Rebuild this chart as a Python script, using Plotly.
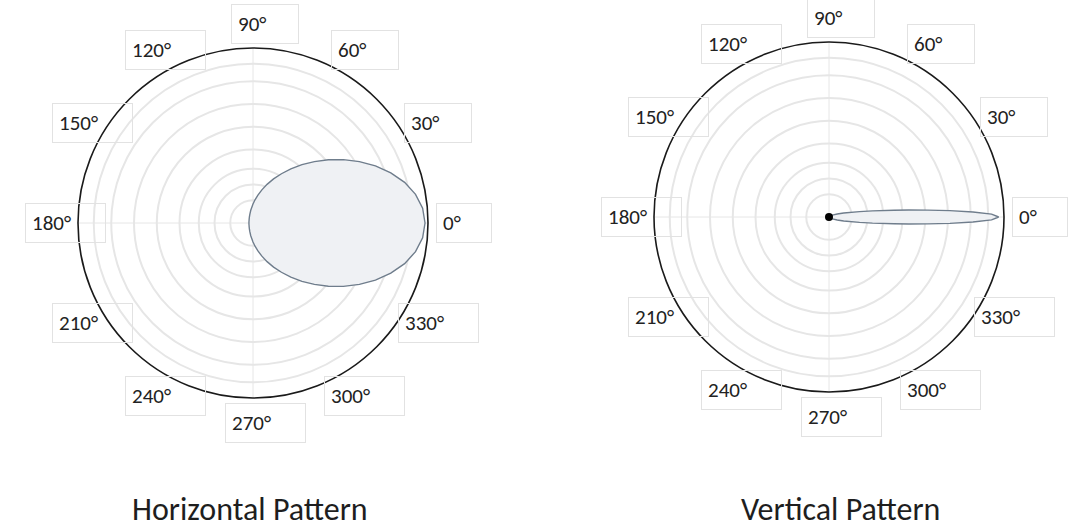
import math
import plotly.graph_objects as go

# Horizontal pattern: broad lobe toward 0 degrees (relative field, 0..1)
h_theta = [0, 5, 10, 15, 20, 25, 30, 35, 40, 45, 50, 55, 60, 65, 70, 75, 80, 85, 90,
           100, 110, 120, 135, 150, 165, 180,
           195, 210, 225, 240, 250, 260,
           270, 275, 280, 285, 290, 295, 300, 305, 310, 315, 320, 325, 330, 335, 340, 345, 350, 355, 360]
h_r = [0.983, 0.973, 0.943, 0.897, 0.838, 0.772, 0.702, 0.631, 0.562, 0.496, 0.435, 0.377, 0.325,
       0.278, 0.235, 0.196, 0.162, 0.133, 0.109,
       0.074, 0.053, 0.041, 0.031, 0.026, 0.024, 0.023,
       0.024, 0.026, 0.031, 0.041, 0.053, 0.074,
       0.109, 0.133, 0.162, 0.196, 0.235, 0.278, 0.325, 0.377, 0.435, 0.496, 0.562, 0.631,
       0.702, 0.772, 0.838, 0.897, 0.943, 0.973, 0.983]

# Vertical pattern: narrow beam toward 0 degrees
v_theta = [0, 1, 2, 3, 4, 5, 6, 8, 10, 15, 20, 30, 45, 60, 90,
           270, 300, 315, 330, 340, 345, 350, 352, 354, 355, 356, 357, 358, 359, 360]
v_r = [0.970, 0.929, 0.823, 0.692, 0.566, 0.458, 0.372, 0.251, 0.177, 0.087, 0.050, 0.022, 0.009, 0.004, 0.0,
       0.0, 0.004, 0.009, 0.022, 0.050, 0.087, 0.177, 0.251, 0.372, 0.458, 0.566, 0.692, 0.823, 0.929, 0.970]

# Ring positions of the radial grid
ring_vals = [0.13, 0.22, 0.31, 0.42, 0.55, 0.68, 0.81, 0.91]

# Angle labels around each dial
label_angles = [0, 30, 60, 90, 120, 150, 180, 210, 240, 270, 300, 330]
label_text = ["0°", "30°", "60°", "90°", "120°", "150°", "180°", "210°", "240°", "270°", "300°", "330°"]

titles = ["Horizontal Pattern", "Vertical Pattern"]

W, H = 1068, 532
FONT = "Carlito, Lato, sans-serif"
LABEL_SIZE = 21
LINE = "#6f7d8c"
FILL = "#eff1f4"
GRID = "#e6e6e6"

# dial centres and radius (pixels) for the two polar panels, plus title centre x
dials = [(253, 223, 175), (829, 217, 175)]
title_x = [250, 840]

fig = go.Figure()

fig.add_trace(go.Scatterpolar(
    r=h_r, theta=h_theta, mode="lines", fill="toself",
    fillcolor=FILL, line=dict(color=LINE, width=1.4),
    subplot="polar", hoverinfo="skip", showlegend=False))

fig.add_trace(go.Scatterpolar(
    r=v_r, theta=v_theta, mode="lines", fill="toself",
    fillcolor=FILL, line=dict(color=LINE, width=1.4),
    subplot="polar2", hoverinfo="skip", showlegend=False))

fig.add_trace(go.Scatterpolar(
    r=[0], theta=[0], mode="markers",
    marker=dict(color="black", size=8),
    subplot="polar2", hoverinfo="skip", showlegend=False))


def polar_layout(cx, cy, R):
    return dict(
        domain=dict(x=[(cx - R) / W, (cx + R) / W], y=[1 - (cy + R) / H, 1 - (cy - R) / H]),
        bgcolor="white",
        radialaxis=dict(range=[0, 1], tickvals=ring_vals, showticklabels=False,
                        ticks="", showline=False, gridcolor=GRID, gridwidth=1.5),
        angularaxis=dict(rotation=0, direction="counterclockwise", dtick=90,
                         showticklabels=False, ticks="", showline=True,
                         linecolor="#1a1a1a", linewidth=1.6,
                         gridcolor=GRID, gridwidth=1.2),
    )


annotations = []
for (cx, cy, R), tx, title in zip(dials, title_x, titles):
    for ang, txt in zip(label_angles, label_text):
        k = 1.14
        px = cx + k * R * math.cos(math.radians(ang))
        py = cy - k * R * math.sin(math.radians(ang))
        # approximate rendered width of the label text
        text_w = 0.58 * LABEL_SIZE * (len(txt) - 1) + 8
        pad = 6
        annotations.append(dict(
            x=(px - text_w / 2 - pad) / W, y=1 - py / H, xref="paper", yref="paper",
            text=txt, showarrow=False, xanchor="left", yanchor="middle",
            align="left", width=text_w + 22, height=26,
            font=dict(family=FONT, size=LABEL_SIZE, color="#222222"),
            bordercolor="#e2e2e2", borderwidth=1, borderpad=pad,
            bgcolor="rgba(255,255,255,0)"))
    annotations.append(dict(
        x=tx / W, y=1 - 509 / H, xref="paper", yref="paper",
        text=title, showarrow=False, xanchor="center", yanchor="middle",
        font=dict(family=FONT, size=32, color="#1e1e1e")))

fig.update_layout(
    width=W, height=H,
    margin=dict(l=0, r=0, t=0, b=0),
    paper_bgcolor="white",
    polar=polar_layout(*dials[0]),
    polar2=polar_layout(*dials[1]),
    annotations=annotations,
    showlegend=False,
)

fig.write_html("out.html")
